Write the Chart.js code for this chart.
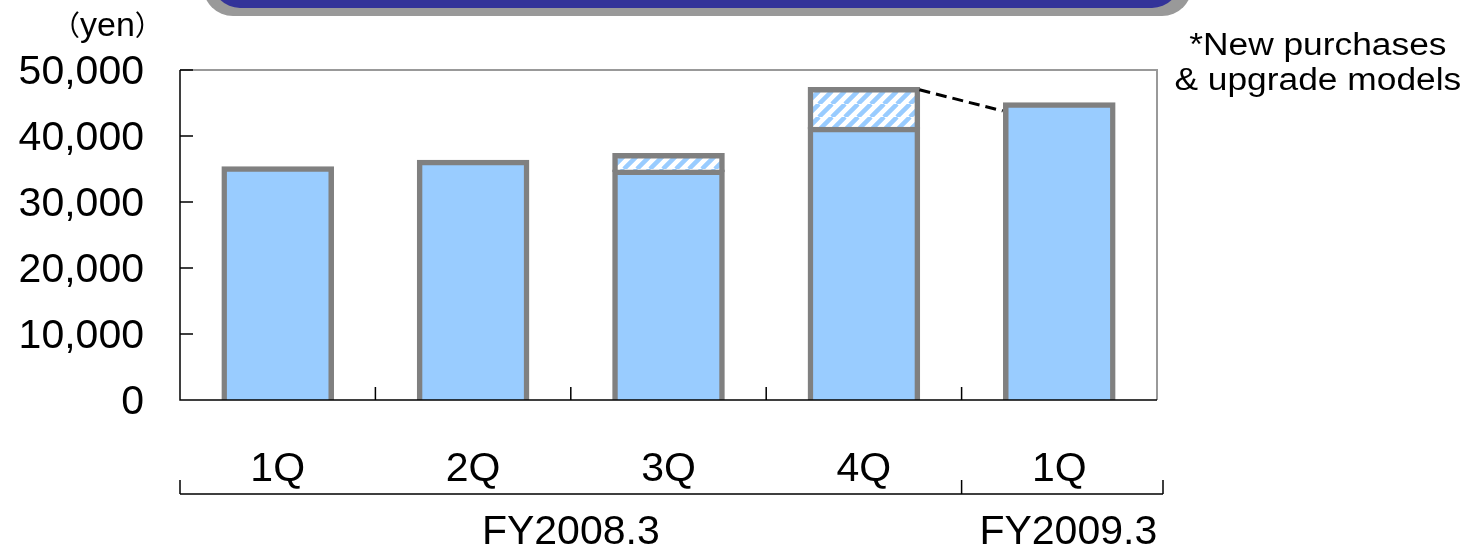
<!DOCTYPE html>
<html>
<head>
<meta charset="utf-8">
<title>Average unit price per quarter</title>
<script src="https://cdn.jsdelivr.net/npm/chart.js@4"></script>
<style>
  html, body { margin: 0; padding: 0; background: #fff; }
  #wrap { position: relative; width: 1472px; height: 548px; overflow: hidden;
          font-family: "Liberation Sans", Arial, sans-serif; color: #000; }
  #chart { position: absolute; left: 0; top: 0; }
  .banner-shadow { position: absolute; left: 203px; top: -60px; width: 989px; height: 76px;
                   background: #999999; border-radius: 30px; }
  .banner { position: absolute; left: 212px; top: -60px; width: 968px; height: 68px;
            background: #333399; border-radius: 28px; }
  .unit { position: absolute; left: 52px; top: 6px; font-size: 28px; line-height: 36px;
          font-family: "Noto Sans CJK JP", sans-serif; white-space: nowrap; }
  .unit span { font-family: "Liberation Sans", Arial, sans-serif; font-size: 34px; }
  .note { position: absolute; left: 1168px; top: 27px; width: 300px; text-align: center;
          font-size: 31px; line-height: 35px; white-space: nowrap; }
  .note span { display: inline-block; transform: scaleX(1.14); transform-origin: center; }
</style>
</head>
<body>
<div id="wrap">
  <div class="banner-shadow"></div>
  <div class="banner"></div>
  <canvas id="chart" width="1472" height="548"></canvas>
  <div class="unit">（<span>yen</span>）</div>
  <div class="note"><span>*New purchases</span><br><span>&amp; upgrade models</span></div>
</div>
<script>
// Quarter labels along the category axis
const quarters = ['1Q', '2Q', '3Q', '4Q', '1Q'];
// Fiscal years and how many quarters each one spans
const fiscalYears = ['FY2008.3', 'FY2009.3'];
const fiscalYearSpans = [4, 1];
// Unit price (yen): standard models, and the extra from new purchases & upgrade models
const basePrice = [35000, 36000, 34500, 41000, 44700];
const upgradePrice = [0, 0, 2500, 6000, 0];
// Value-axis ticks
const yTickValues = [0, 10000, 20000, 30000, 40000, 50000];
// Dashed guide from the 4Q total to the next quarter (yen at each end)
const guideValues = [47000, 43800];

const FONT = '"Liberation Sans", Arial, sans-serif';

// diagonal light-blue stripes on white for the upgrade segment
function makeHatch(context) {
  const s = 13;
  const c = document.createElement('canvas');
  c.width = s; c.height = s;
  const g = c.getContext('2d');
  g.fillStyle = '#ffffff';
  g.fillRect(0, 0, s, s);
  g.strokeStyle = '#99CCFF';
  g.lineWidth = 4.5;
  g.beginPath();
  for (let k = -1; k <= 1; k++) {
    g.moveTo(k * s, s);
    g.lineTo(k * s + s, 0);
  }
  g.stroke();
  return context.createPattern(c, 'repeat');
}

const ctx = document.getElementById('chart').getContext('2d');

const axisDecor = {
  id: 'axisDecor',
  afterDatasetsDraw(chart) {
    const { ctx, chartArea: { left, right, top, bottom }, scales: { x, y } } = chart;
    ctx.save();

    // plot frame: grey top/right, black axes
    ctx.lineCap = 'butt';
    ctx.strokeStyle = '#999999';
    ctx.lineWidth = 2;
    ctx.beginPath();
    ctx.moveTo(left, top);
    ctx.lineTo(right, top);
    ctx.lineTo(right, bottom);
    ctx.stroke();

    ctx.strokeStyle = '#000000';
    ctx.lineWidth = 1.5;
    ctx.beginPath();
    ctx.moveTo(left, top);
    ctx.lineTo(left, bottom);
    ctx.lineTo(right, bottom);
    // inward tick marks on the value axis
    yTickValues.forEach(v => {
      const py = y.getPixelForValue(v);
      ctx.moveTo(left, py);
      ctx.lineTo(left + 13, py);
    });
    // inward tick marks between quarters
    for (let i = 1; i < quarters.length; i++) {
      const px = (x.getPixelForValue(i - 1) + x.getPixelForValue(i)) / 2;
      ctx.moveTo(px, bottom);
      ctx.lineTo(px, bottom - 13);
    }
    ctx.stroke();

    // fiscal-year bracket under the quarter labels
    const step = x.getPixelForValue(1) - x.getPixelForValue(0);
    const bracketY = 494;
    const edges = [left];
    let acc = 0;
    fiscalYearSpans.forEach(n => { acc += n; edges.push(left + acc * step); });
    edges[edges.length - 1] += 6;
    ctx.lineWidth = 1.5;
    ctx.beginPath();
    ctx.moveTo(edges[0], bracketY);
    ctx.lineTo(edges[edges.length - 1], bracketY);
    edges.forEach(ex => { ctx.moveTo(ex, bracketY); ctx.lineTo(ex, bracketY - 14); });
    ctx.stroke();

    ctx.fillStyle = '#000000';
    ctx.font = '41px ' + FONT;
    ctx.textAlign = 'center';
    ctx.textBaseline = 'alphabetic';
    fiscalYears.forEach((fy, i) => {
      const last = i === fiscalYears.length - 1;
      ctx.fillText(fy, (edges[i] + edges[i + 1]) / 2 + (last ? 6 : 0), 544);
    });

    // dashed guide between the 4Q stack and the following quarter
    const topEl = chart.getDatasetMeta(1).data[3];
    const nextEl = chart.getDatasetMeta(0).data[4];
    ctx.strokeStyle = '#000000';
    ctx.lineWidth = 3;
    ctx.setLineDash([11, 6]);
    ctx.beginPath();
    ctx.moveTo(topEl.x + topEl.width / 2 + 2, y.getPixelForValue(guideValues[0]));
    ctx.lineTo(nextEl.x - nextEl.width / 2 - 3, y.getPixelForValue(guideValues[1]));
    ctx.stroke();
    ctx.restore();
  }
};

const barCommon = {
  borderColor: '#808080',
  borderWidth: 5.5,
  inflateAmount: 2.75,
  borderSkipped: 'start',
  barPercentage: 0.548,
  categoryPercentage: 1
};

new Chart(ctx, {
  type: 'bar',
  data: {
    labels: quarters,
    datasets: [
      Object.assign({ label: 'Unit price', data: basePrice, backgroundColor: '#99CCFF' }, barCommon),
      Object.assign({ label: 'New purchases & upgrade models', data: upgradePrice, backgroundColor: makeHatch(ctx) }, barCommon)
    ]
  },
  options: {
    responsive: false,
    animation: false,
    events: [],
    layout: { padding: { left: 0, right: 315, top: 70, bottom: 0 } },
    plugins: { legend: { display: false }, tooltip: { enabled: false } },
    scales: {
      x: {
        stacked: true,
        grid: { display: false },
        border: { display: false },
        ticks: { color: '#000', font: { family: FONT, size: 41 }, padding: 37, maxRotation: 0, autoSkip: false },
        afterFit(scale) { scale.height = 148; }
      },
      y: {
        stacked: true,
        min: 0,
        max: 50000,
        grid: { display: false },
        border: { display: false },
        afterBuildTicks(scale) { scale.ticks = yTickValues.map(v => ({ value: v })); },
        ticks: {
          color: '#000',
          font: { family: FONT, size: 41 },
          padding: 28,
          labelOffset: 3,
          callback: v => Number(v).toLocaleString('en-US')
        },
        afterFit(scale) { scale.width = 180; }
      }
    }
  },
  plugins: [axisDecor]
});
</script>
</body>
</html>
